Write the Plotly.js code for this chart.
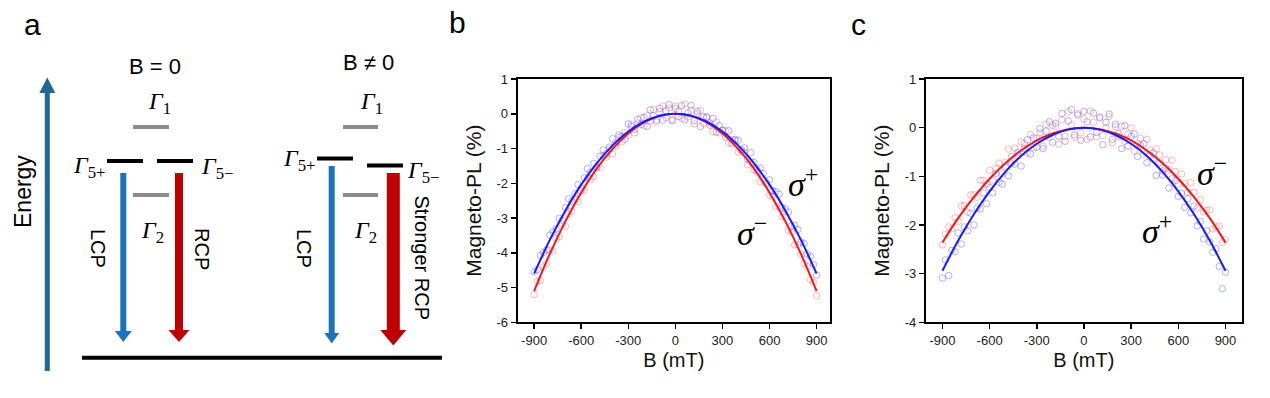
<!DOCTYPE html>
<html>
<head>
<meta charset="utf-8">
<script src="https://cdn.plot.ly/plotly-3.0.1.min.js"></script>
<style>html,body{margin:0;padding:0;background:#fff;}#chart{width:1270px;height:398px;}</style>
</head>
<body>
<div id="chart"></div>
<script>
// ---------- data (panels b and c) ----------
const bField = [-900,-880,-860,-840,-820,-800,-780,-760,-740,-720,-700,-680,-660,-640,-620,-600,-580,-560,-540,-520,
  -500,-480,-460,-440,-420,-400,-380,-360,-340,-320,-300,-280,-260,-240,-220,-200,-180,-160,-140,-120,
  -100,-80,-60,-40,-20,0,20,40,60,80,100,120,140,160,180,200,220,240,260,280,
  300,320,340,360,380,400,420,440,460,480,500,520,540,560,580,600,620,640,660,680,
  700,720,740,760,780,800,820,840,860,880,900];

const bSigmaPlus = [-4.55,-4.48,-4.08,-3.99,-3.92,-3.49,-3.40,-3.32,-3.01,-3.06,
  -2.70,-2.45,-2.52,-2.30,-2.04,-2.13,-1.84,-1.58,-1.68,-1.43,
  -1.55,-1.22,-1.04,-1.16,-0.96,-0.72,-0.93,-0.61,-0.65,-0.73,
  -0.29,-0.37,-0.45,-0.16,-0.31,-0.11,-0.36,0.11,-0.06,-0.18,
  0.15,-0.18,0.08,0.27,-0.20,0.15,-0.08,0.23,-0.18,0.02,
  0.24,-0.20,0.07,-0.37,-0.09,-0.09,-0.33,-0.13,-0.53,-0.34,
  -0.48,-0.67,-0.49,-0.86,-0.74,-0.76,-1.04,-0.98,-1.30,-1.12,
  -1.40,-1.67,-1.56,-1.72,-1.99,-1.90,-2.21,-2.24,-2.31,-2.70,
  -2.74,-2.83,-3.23,-3.21,-3.33,-3.69,-3.73,-4.03,-4.10,-4.34,-4.64];

const bSigmaMinus = [-5.20,-4.82,-4.80,-4.41,-4.30,-3.92,-3.95,-3.60,-3.54,-3.18,
  -3.24,-2.89,-2.80,-2.48,-2.53,-2.22,-2.20,-1.85,-1.88,-1.82,
  -1.50,-1.55,-1.21,-1.25,-1.02,-1.15,-0.85,-0.67,-0.81,-0.54,
  -0.62,-0.31,-0.55,-0.27,-0.11,-0.35,-0.06,-0.22,0.12,-0.24,
  0.06,0.22,-0.11,0.17,-0.17,0.22,0.08,-0.13,0.28,-0.09,
  0.10,-0.29,0.00,0.09,-0.28,-0.11,-0.27,-0.51,-0.24,-0.55,
  -0.47,-0.49,-0.84,-0.75,-0.78,-1.10,-1.06,-1.10,-1.47,-1.37,
  -1.61,-1.60,-1.96,-1.92,-2.03,-2.34,-2.39,-2.68,-2.66,-2.96,
  -2.98,-3.35,-3.41,-3.77,-3.77,-4.05,-4.31,-4.39,-4.77,-4.85,-5.24];

const cSigmaPlus = [-3.09,-2.72,-3.04,-2.52,-2.55,-2.16,-2.39,-2.04,-2.12,-1.76,
  -2.00,-1.65,-1.67,-1.34,-1.56,-1.23,-1.34,-0.94,-1.12,-1.16,
  -0.80,-0.99,-0.59,-0.75,-0.51,-0.79,-0.43,-0.25,-0.54,-0.21,
  -0.40,-0.02,-0.43,-0.07,0.12,-0.30,0.09,-0.18,0.29,-0.28,
  0.14,0.37,-0.15,0.26,-0.26,0.33,0.12,-0.19,0.30,-0.10,
  0.20,-0.35,0.11,0.28,-0.24,0.07,-0.12,-0.43,0.04,-0.38,
  -0.18,-0.13,-0.59,-0.37,-0.33,-0.72,-0.57,-0.52,-0.98,-0.72,
  -0.97,-0.83,-1.24,-1.05,-1.09,-1.41,-1.35,-1.64,-1.46,-1.75,
  -1.61,-2.02,-1.93,-2.29,-2.12,-2.35,-2.56,-2.49,-2.85,-3.31,-2.97];

const cSigmaMinus = [-2.41,-2.19,-2.04,-2.08,-1.85,-1.93,-1.61,-1.60,-1.74,-1.38,
  -1.38,-1.43,-1.08,-1.08,-1.16,-0.88,-1.08,-0.84,-0.73,-0.95,
  -0.71,-0.44,-0.74,-0.42,-0.56,-0.29,-0.32,-0.52,-0.14,-0.41,
  -0.22,-0.10,-0.38,0.07,-0.20,0.05,0.02,-0.34,0.16,-0.18,
  0.33,0.05,-0.20,0.29,-0.10,0.18,-0.24,0.34,0.11,-0.19,
  0.22,-0.16,0.00,0.23,-0.31,0.02,-0.18,0.03,-0.28,-0.13,
  0.00,-0.48,-0.33,-0.22,-0.55,-0.24,-0.46,-0.63,-0.43,-0.56,
  -0.89,-0.66,-0.87,-0.67,-0.90,-1.16,-0.95,-1.15,-1.33,-1.13,
  -1.33,-1.65,-1.48,-1.73,-1.70,-1.69,-2.08,-2.04,-2.02,-2.36,-2.30];

const fitField = [-900,-800,-700,-600,-500,-400,-300,-200,-100,0,100,200,300,400,500,600,700,800,900];
const bFitPlus  = [-4.60,-3.63,-2.78,-2.04,-1.42,-0.91,-0.51,-0.23,-0.06,0,-0.06,-0.23,-0.51,-0.91,-1.42,-2.04,-2.78,-3.63,-4.60];
const bFitMinus = [-5.10,-4.03,-3.09,-2.27,-1.57,-1.01,-0.57,-0.25,-0.06,0,-0.06,-0.25,-0.57,-1.01,-1.57,-2.27,-3.09,-4.03,-5.10];
const cFitPlus  = [-2.94,-2.32,-1.78,-1.31,-0.91,-0.58,-0.33,-0.15,-0.04,0,-0.04,-0.15,-0.33,-0.58,-0.91,-1.31,-1.78,-2.32,-2.94];
const cFitMinus = [-2.36,-1.86,-1.43,-1.05,-0.73,-0.47,-0.26,-0.12,-0.03,0,-0.03,-0.12,-0.26,-0.47,-0.73,-1.05,-1.43,-1.86,-2.36];

const xTicks = [-900,-600,-300,0,300,600,900];
const yTicksB = [1,0,-1,-2,-3,-4,-5,-6];
const yTicksC = [1,0,-1,-2,-3,-4];

// ---------- styles ----------
const BLUE = '#1a1aff', RED = '#f01a1a';
const BLUE_PT = 'rgba(70,70,255,0.42)', RED_PT = 'rgba(255,70,70,0.38)';
const SERIF = '"Liberation Serif","DejaVu Serif",serif';
const SANS = 'Arial, "Liberation Sans", sans-serif';

function pts(x, y, col, xa, ya) {
  return {x, y, xaxis: xa, yaxis: ya, type: 'scatter', mode: 'markers', hoverinfo: 'skip',
    marker: {symbol: 'circle-open', size: 6.5, color: col, line: {width: 1, color: col}}};
}
function fit(x, y, col, xa, ya) {
  return {x, y, xaxis: xa, yaxis: ya, type: 'scatter', mode: 'lines', hoverinfo: 'skip',
    line: {color: col, width: 2, shape: 'spline', smoothing: 1}};
}

const traces = [
  pts(bField, bSigmaMinus, RED_PT, 'x', 'y'),
  pts(bField, bSigmaPlus, BLUE_PT, 'x', 'y'),
  fit(fitField, bFitMinus, RED, 'x', 'y'),
  fit(fitField, bFitPlus, BLUE, 'x', 'y'),
  pts(bField, cSigmaMinus, RED_PT, 'x2', 'y2'),
  pts(bField, cSigmaPlus, BLUE_PT, 'x2', 'y2'),
  fit(fitField, cFitMinus, RED, 'x2', 'y2'),
  fit(fitField, cFitPlus, BLUE, 'x2', 'y2'),
  {x: [0], y: [0], xaxis: 'x3', yaxis: 'y3', mode: 'markers', marker: {opacity: 0}, hoverinfo: 'skip'}
];

function xAx(domain, range) {
  return {domain, range, tickvals: xTicks, ticktext: xTicks.map(String), ticks: 'outside', ticklen: 5, tickwidth: 1.5,
    tickcolor: '#000', showline: true, linewidth: 2, linecolor: '#000', mirror: true, showgrid: false, zeroline: false,
    tickfont: {family: SANS, size: 13, color: '#222'}, fixedrange: true,
    title: {text: 'B (mT)', font: {family: SANS, size: 20, color: '#111'}, standoff: 6}};
}
function yAx(domain, range, ticks, anchor) {
  return {domain, range, anchor, tickvals: ticks, ticktext: ticks.map(String), ticks: 'outside', ticklen: 5, tickwidth: 1.5,
    tickcolor: '#000', showline: true, linewidth: 2, linecolor: '#000', mirror: true, showgrid: false, zeroline: false,
    tickfont: {family: SANS, size: 13, color: '#222'}, fixedrange: true,
    title: {text: 'Magneto-PL (%)', font: {family: SANS, size: 21, color: '#111'}, standoff: 9}};
}

// ---------- panel a schematic (drawn on a hidden pixel-like axis) ----------
const TEAL = '#1f6a8e', LBLUE = '#1a74bd', DRED = '#c00000', GRAY = '#8c8c8c';
const shapes = [];
function seg(x0, y0, x1, y1, color, w) {
  shapes.push({type: 'line', xref: 'x3', yref: 'y3', x0, y0, x1, y1, line: {color, width: w}});
}
function head(x, yBase, yTip, half, color) {
  shapes.push({type: 'path', xref: 'x3', yref: 'y3',
    path: `M ${x - half} ${yBase} L ${x} ${yTip} L ${x + half} ${yBase} Z`, fillcolor: color, line: {width: 0}});
}
// energy axis arrow
seg(47.3, 371, 47.3, 90, TEAL, 5); head(47.3, 93, 77.5, 8, TEAL);
// levels B = 0
seg(133, 127, 169, 127, GRAY, 4);
seg(107, 161, 143, 161, '#000', 4);
seg(157, 161, 193, 161, '#000', 4);
seg(133, 195, 169, 195, GRAY, 4);
// levels B != 0
seg(343, 127, 378, 127, GRAY, 4);
seg(317, 158.5, 353, 158.5, '#000', 4);
seg(367, 165.5, 403, 165.5, '#000', 4);
seg(343, 195, 378, 195, GRAY, 4);
// emission arrows
seg(123.3, 173, 123.3, 333, LBLUE, 6); head(123.3, 331, 342, 8.5, LBLUE);
seg(179, 173, 179, 333, DRED, 8); head(179, 330, 342, 10.5, DRED);
seg(331.7, 166, 331.7, 335, LBLUE, 6); head(331.7, 333, 343.5, 7.5, LBLUE);
seg(393.3, 173, 393.3, 333, DRED, 13); head(393.3, 330, 345.5, 13, DRED);
// ground level
seg(82, 357.7, 442, 357.7, '#000', 4);

function ann(x, y, text, size, family, angle, ref) {
  const r = ref || 'a';
  const o = {text, showarrow: false, xanchor: 'center', yanchor: 'middle',
    font: {family, size, color: '#000'}, textangle: angle || 0};
  if (r === 'a') { o.xref = 'x3'; o.yref = 'y3'; } else { o.xref = r[0]; o.yref = r[1]; }
  o.x = x; o.y = y; return o;
}
const annotations = [
  ann(23, 192, 'Energy', 23, SANS, -90),
  ann(155, 66, 'B = 0', 22, SANS),
  ann(368, 62, 'B ≠ 0', 22, SANS),
  ann(159, 103, '<i>Γ</i><sub>1</sub>', 24, SERIF),
  ann(371, 103, '<i>Γ</i><sub>1</sub>', 24, SERIF),
  ann(152, 232, '<i>Γ</i><sub>2</sub>', 24, SERIF),
  ann(365, 232, '<i>Γ</i><sub>2</sub>', 24, SERIF),
  ann(89, 167, '<i>Γ</i><sub>5+</sub>', 24, SERIF),
  ann(217, 168, '<i>Γ</i><sub>5−</sub>', 24, SERIF),
  ann(299, 160, '<i>Γ</i><sub>5+</sub>', 24, SERIF),
  ann(423, 172, '<i>Γ</i><sub>5−</sub>', 24, SERIF),
  ann(98, 248, 'LCP', 20, SANS, 90),
  ann(202, 249, 'RCP', 20, SANS, 90),
  ann(304, 248, 'LCP', 20, SANS, 90),
  ann(421.5, 258, 'Stronger RCP', 20, SANS, 90),
  // sigma labels
  ann(815, -1.95, '<i>σ</i><sup>+</sup>', 34, SERIF, 0, ['x', 'y']),
  ann(490, -3.38, '<i>σ</i><sup>−</sup>', 34, SERIF, 0, ['x', 'y']),
  ann(816, -0.90, '<i>σ</i><sup>−</sup>', 34, SERIF, 0, ['x2', 'y2']),
  ann(466, -2.09, '<i>σ</i><sup>+</sup>', 34, SERIF, 0, ['x2', 'y2']),
  // panel letters
  {text: 'a', xref: 'paper', yref: 'paper', x: 32 / 1270, y: 1 - 24 / 398, showarrow: false, xanchor: 'center', yanchor: 'middle', font: {family: SANS, size: 30, color: '#000'}},
  {text: 'b', xref: 'paper', yref: 'paper', x: 457 / 1270, y: 1 - 22 / 398, showarrow: false, xanchor: 'center', yanchor: 'middle', font: {family: SANS, size: 30, color: '#000'}},
  {text: 'c', xref: 'paper', yref: 'paper', x: 858 / 1270, y: 1 - 24 / 398, showarrow: false, xanchor: 'center', yanchor: 'middle', font: {family: SANS, size: 30, color: '#000'}}
];

const yDom = [0.1902, 0.8015];
const layout = {
  width: 1270, height: 398, margin: {l: 0, r: 0, t: 0, b: 0},
  paper_bgcolor: '#fff', plot_bgcolor: 'rgba(0,0,0,0)', showlegend: false,
  xaxis: Object.assign(xAx([0.4076, 0.6535], [-1005, 985]), {anchor: 'y'}),
  yaxis: yAx(yDom, [-6, 1], yTicksB, 'x'),
  xaxis2: Object.assign(xAx([0.7291, 0.9777], [-1005, 1003]), {anchor: 'y2'}),
  yaxis2: yAx(yDom, [-4, 1], yTicksC, 'x2'),
  xaxis3: {domain: [0, 460 / 1270], range: [0, 460], visible: false, fixedrange: true, anchor: 'y3'},
  yaxis3: {domain: [0, 1], range: [398, 0], visible: false, fixedrange: true, anchor: 'x3'},
  shapes, annotations
};

Plotly.newPlot('chart', traces, layout, {displayModeBar: false, staticPlot: true});
</script>
</body>
</html>
